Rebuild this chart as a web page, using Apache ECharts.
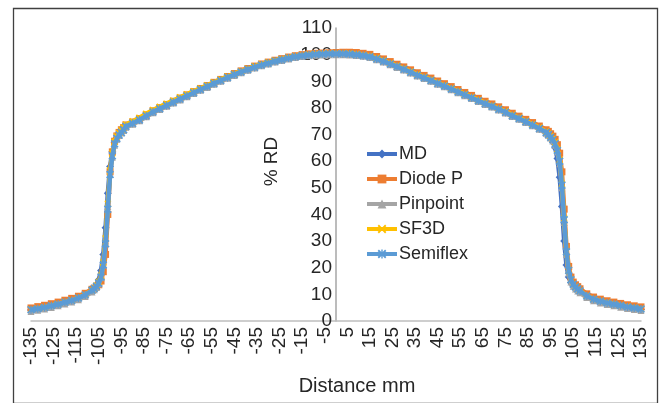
<!DOCTYPE html>
<html><head><meta charset="utf-8">
<script src="https://cdn.jsdelivr.net/npm/echarts@6/dist/echarts.min.js"></script>
<style>html,body{margin:0;padding:0;background:#fff}#c{width:660px;height:403px}</style>
</head><body><div id="c"></div>
<script>
var distances = [-135,-132,-129,-126,-123,-120,-117,-114,-111,-108,
-107,-106,-105,-104,-103,-102,-101,-100,-99,-98,-97,-96,-95,-94,
-93,-90,-87,-84,-81,-78,-75,-72,-69,-66,-63,-60,-57,-54,-51,-48,-45,-42,-39,-36,-33,-30,-27,-24,-21,-18,-15,-12,-9,-6,-3,0,
3,6,9,12,15,18,21,24,27,30,33,36,39,42,45,48,51,54,57,60,63,66,69,72,75,78,81,84,87,90,93,
94,95,96,97,98,99,100,101,102,103,104,105,106,107,
108,111,114,117,120,123,126,129,132,135];

var md = [4.1,4.5,5.0,5.6,6.2,6.9,7.6,8.5,9.8,11.6,
12.6,13.6,15.5,19.0,25.0,35.0,48.0,58.0,63.5,67.0,68.8,70.0,71.0,72.0,
72.9,74.1,75.4,76.9,78.4,79.6,80.8,82.0,83.2,84.4,85.6,86.8,87.9,89.1,90.2,91.3,92.4,93.4,94.3,95.2,96.0,96.7,97.4,98.0,98.6,99.1,99.5,99.8,100.0,100.1,100.2,100.2,
100.2,100.1,99.9,99.6,99.1,98.3,97.4,96.4,95.4,94.4,93.3,92.2,91.2,90.2,89.1,88.1,87.0,85.9,84.8,83.7,82.6,81.5,80.5,79.4,78.3,77.0,75.9,74.7,73.5,72.2,70.6,
69.8,68.6,67.2,65.0,61.0,54.0,43.0,30.0,21.0,16.5,14.5,13.2,12.4,11.7,
11.0,9.2,8.0,7.2,6.6,6.1,5.6,5.1,4.7,4.3];

var diodeP = [4.9,5.4,5.9,6.5,7.1,7.8,8.5,9.3,10.4,11.9,
12.3,12.9,13.6,15.0,18.5,25.0,40.0,56.0,63.5,67.5,69.5,70.8,71.8,72.6,
73.6,74.7,76.0,77.4,78.9,80.1,81.3,82.5,83.7,84.9,86.1,87.3,88.4,89.6,90.7,91.8,92.9,93.9,94.8,95.7,96.5,97.2,97.9,98.5,99.1,99.6,100.0,100.3,100.5,100.6,100.7,100.8,
100.9,100.9,100.8,100.5,100.1,99.3,98.4,97.4,96.4,95.4,94.3,93.2,92.2,91.2,90.1,89.1,88.0,86.9,85.8,84.7,83.6,82.5,81.5,80.4,79.3,78.0,76.9,75.7,74.5,73.2,71.8,
71.2,70.3,69.4,68.2,66.2,63.0,56.0,42.0,28.0,20.5,16.5,14.6,13.6,12.9,
12.1,10.2,9.0,8.2,7.6,7.1,6.6,6.1,5.7,5.3];

var pinpoint = [3.6,4.0,4.5,5.1,5.7,6.4,7.1,8.0,9.2,10.9,
11.7,12.6,13.9,16.2,21.0,30.0,43.0,55.0,61.5,66.0,68.2,69.6,70.6,71.5,
72.7,73.9,75.2,76.7,78.2,79.4,80.6,81.8,83.0,84.2,85.4,86.6,87.7,88.9,90.0,91.1,92.2,93.2,94.1,95.0,95.8,96.5,97.2,97.8,98.4,98.9,99.3,99.6,99.8,99.9,100.0,100.0,
100.0,99.9,99.7,99.4,98.9,98.1,97.2,96.2,95.2,94.2,93.1,92.0,91.0,90.0,88.9,87.9,86.8,85.7,84.6,83.5,82.4,81.3,80.3,79.2,78.1,76.8,75.7,74.5,73.3,72.0,70.5,
69.7,68.7,67.6,66.0,63.5,59.0,50.0,37.0,25.0,18.0,14.6,13.0,12.0,11.3,
10.6,8.8,7.6,6.8,6.2,5.7,5.2,4.7,4.3,3.9];

var sf3d = [4.3,4.7,5.2,5.8,6.4,7.1,7.8,8.7,9.9,11.6,
12.4,13.3,14.6,17.0,22.0,31.0,44.0,56.5,63.0,67.3,69.3,70.6,71.6,72.6,
73.8,75.0,76.3,77.8,79.2,80.4,81.6,82.8,84.0,85.1,86.3,87.4,88.5,89.6,90.7,91.8,92.8,93.8,94.7,95.6,96.4,97.1,97.8,98.4,98.9,99.4,99.8,100.1,100.3,100.4,100.5,100.5,
100.5,100.4,100.2,99.9,99.5,98.7,97.8,96.8,95.8,94.8,93.7,92.6,91.6,90.6,89.5,88.5,87.4,86.3,85.2,84.1,83.0,81.9,80.9,79.8,78.7,77.4,76.3,75.1,73.9,72.6,71.1,
70.4,69.4,68.4,67.0,64.5,60.5,51.5,38.5,26.0,19.0,15.5,13.9,12.9,12.1,
11.4,9.5,8.3,7.5,6.9,6.4,5.9,5.4,5.0,4.6];

var semiflex = [4.2,4.6,5.1,5.7,6.3,7.0,7.7,8.6,9.8,11.5,
12.2,13.0,14.2,16.5,21.0,29.0,42.0,55.0,62.0,66.5,68.5,69.8,70.8,71.8,
73.0,74.2,75.5,77.0,78.5,79.7,80.9,82.1,83.3,84.5,85.7,86.9,88.0,89.2,90.3,91.4,92.5,93.5,94.4,95.3,96.1,96.8,97.5,98.1,98.7,99.2,99.6,99.9,100.1,100.2,100.3,100.3,
100.3,100.2,100.0,99.7,99.2,98.4,97.5,96.5,95.5,94.5,93.4,92.3,91.3,90.3,89.2,88.2,87.1,86.0,84.9,83.8,82.7,81.6,80.6,79.5,78.4,77.1,76.0,74.8,73.6,72.3,70.8,
70.0,69.0,68.0,66.5,64.0,60.0,51.0,38.0,26.0,19.0,15.5,13.8,12.8,12.0,
11.3,9.4,8.2,7.4,6.8,6.3,5.8,5.3,4.9,4.5];

var seriesNames = ['MD','Diode P','Pinpoint','SF3D','Semiflex'];
var seriesColors = ['#4472C4','#ED7D31','#A5A5A5','#FFC000','#5B9BD5'];
var xTickLabels = ['-135','-125','-115','-105','-95','-85','-75','-65','-55','-45','-35','-25','-15','-5','5','15','25','35','45','55','65','75','85','95','105','115','125','135'];
var yTicks = [0,10,20,30,40,50,60,70,80,90,100,110];

var xSym = 'path://M0,1.5 L1.5,0 L5,3.5 L8.5,0 L10,1.5 L6.5,5 L10,8.5 L8.5,10 L5,6.5 L1.5,10 L0,8.5 L3.5,5 Z';
var starSym = 'path://M0,1.5 L1.5,0 L5,3.5 L8.5,0 L10,1.5 L6.5,5 L10,8.5 L8.5,10 L5,6.5 L1.5,10 L0,8.5 L3.5,5 Z M4.2,0 L5.8,0 L5.8,10 L4.2,10 Z';
var symbols = ['diamond','rect','triangle',xSym,starSym];
var symSizes = [8,7,7,7,8];
var allValues = [md, diodeP, pinpoint, sf3d, semiflex];

function pairs(vals){ return distances.map(function(d,i){ return [d, vals[i]]; }); }

var series = seriesNames.map(function(n, k){
  return {
    name: n, type: 'line', data: pairs(allValues[k]),
    symbol: symbols[k], symbolSize: symSizes[k], showSymbol: true,
    lineStyle: {color: seriesColors[k], width: 4.5},
    itemStyle: {color: seriesColors[k], borderWidth: 0},
    z: 2 + k
  };
});

var FONT = 'Liberation Sans, Arial, sans-serif';
var chart = echarts.init(document.getElementById('c'), null, {renderer: 'canvas'});
chart.setOption({
  animation: false,
  backgroundColor: '#fff',
  color: seriesColors,
  grid: {left: 31, right: 19, top: 28, bottom: 82, containLabel: false, outerBoundsMode: 'none'},
  xAxis: {
    type: 'value', min: -135, max: 135, interval: 5,
    splitLine: {show: false},
    axisTick: {show: false},
    axisLine: {lineStyle: {color: '#BFBFBF', width: 1.5}},
    axisLabel: {
      rotate: 90, margin: 6, fontSize: 19, color: '#262626', fontFamily: FONT,
      showMinLabel: true, showMaxLabel: true, hideOverlap: false,
      formatter: function(v){ var s = String(Math.round(v)); return xTickLabels.indexOf(s) >= 0 ? s : ''; }
    },
    name: 'Distance mm', nameLocation: 'middle', nameGap: 55,
    nameTextStyle: {fontSize: 20, color: '#262626', fontFamily: FONT, padding: [0,0,0,42]}
  },
  yAxis: {
    type: 'value', min: 0, max: 110, interval: 10, position: 'left', offset: -305,
    splitLine: {show: false},
    axisTick: {show: false},
    axisLine: {show: true, onZero: false, lineStyle: {color: '#A6A6A6', width: 1.5}},
    axisLabel: {margin: 4, fontSize: 19, color: '#262626', fontFamily: FONT,
      formatter: function(v){ return yTicks.indexOf(v) >= 0 ? String(v) : ''; }},
    name: '% RD', nameLocation: 'middle', nameGap: 55, nameRotate: 90,
    nameTextStyle: {fontSize: 19, color: '#262626', fontFamily: FONT, padding: [0,0,0,26]}
  },
  legend: {
    orient: 'vertical', left: 365, top: 145, padding: 0,
    itemWidth: 30, itemHeight: 11, itemGap: 7,
    lineStyle: {width: 4},
    textStyle: {fontSize: 18, color: '#262626', fontFamily: FONT, lineHeight: 18, padding: [0,0,0,-3]},
    data: seriesNames
  },
  graphic: [{
    type: 'rect', left: 11, top: 6, silent: true,
    shape: {width: 644, height: 395},
    style: {fill: 'none', stroke: '#404040', lineWidth: 1.3}
  }],
  series: series
});
</script>
</body></html>
